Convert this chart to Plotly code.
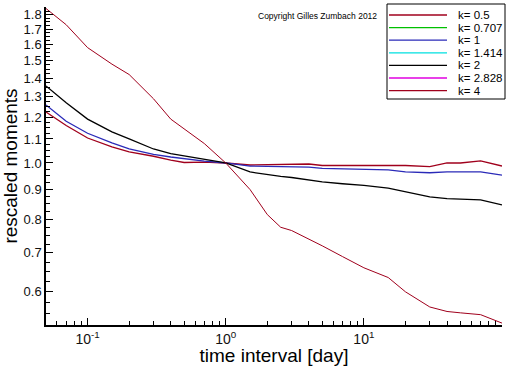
import plotly.graph_objects as go

# ---- data ----
time_interval = [0.05, 0.07, 0.1, 0.15, 0.2, 0.3, 0.4, 0.5, 0.7, 1, 1.5, 2, 2.5, 3, 4, 5,
                 7, 10, 15, 20, 30, 40, 50, 70, 100]

k_labels = ["k= 0.5", "k= 0.707", "k= 1", "k= 1.414", "k= 2", "k= 2.828", "k= 4"]
k_colors = ["#a0001c", "#00c000", "#2a2ab8", "#00e0e0", "#000000", "#e000e0", "#a0001c"]

moment_k05 = [1.224, 1.16, 1.104, 1.066, 1.045, 1.027, 1.011, 1.002, 1.003, 1.0, 0.992, 0.994,
              0.994, 0.995, 0.996, 0.99, 0.99, 0.992, 0.99, 0.99, 0.986, 1.0, 1.0, 1.008, 0.988]
moment_k0707 = []
moment_k1 = [1.259, 1.18, 1.125, 1.083, 1.058, 1.035, 1.024, 1.017, 1.007, 1.0, 0.988, 0.987,
             0.986, 0.985, 0.984, 0.979, 0.977, 0.977, 0.973, 0.965, 0.962, 0.965, 0.965, 0.965, 0.953]
moment_k1414 = []
moment_k2 = [1.357, 1.27, 1.19, 1.131, 1.10, 1.057, 1.038, 1.028, 1.015, 1.0, 0.965, 0.955,
             0.948, 0.944, 0.935, 0.928, 0.921, 0.915, 0.905, 0.893, 0.874, 0.868, 0.867, 0.864, 0.847]
moment_k2828 = []
moment_k4 = [1.845, 1.73, 1.58, 1.48, 1.42, 1.29, 1.19, 1.145, 1.08, 1.0, 0.90, 0.815,
             0.775, 0.765, 0.74, 0.72, 0.69, 0.66, 0.635, 0.60, 0.565, 0.555, 0.552, 0.548, 0.53]

series = [moment_k05, moment_k0707, moment_k1, moment_k1414, moment_k2, moment_k2828, moment_k4]
line_widths = [1.3, 1.3, 1.3, 1.3, 1.3, 1.3, 1.0]

x_tickvals = [0.1, 1, 10, 100]
x_ticktext = ["10<sup>-1</sup>", "10<sup>0</sup>", "10<sup>1</sup>", "10<sup>2</sup>"]
y_tickvals = [0.6, 0.7, 0.8, 0.9, 1.0, 1.1, 1.2, 1.3, 1.4, 1.5, 1.6, 1.7, 1.8]
y_ticktext = ["0.6", "0.7", "0.8", "0.9", "1.0", "1.1", "1.2", "1.3", "1.4", "1.5", "1.6", "1.7", "1.8"]
x_minor = [m * 10 ** e for e in (-2, -1, 0, 1) for m in range(2, 10) if 0.05 <= m * 10 ** e <= 100]
y_minor = [round(0.525 + 0.025 * i, 3) for i in range(54)]

fig = go.Figure()
for lab, col, ys, lw in zip(k_labels, k_colors, series, line_widths):
    if ys:
        fig.add_trace(go.Scatter(x=time_interval, y=ys, mode="lines", name=lab,
                                 line=dict(color=col, width=lw)))

FONT = "Liberation Sans, Arial, sans-serif"
fig.update_layout(
    width=512, height=366,
    margin=dict(l=46, r=10, t=7, b=41),
    paper_bgcolor="white", plot_bgcolor="white",
    showlegend=False,
    font=dict(family=FONT, color="#111"),
)
fig.update_xaxes(
    type="log", range=[-1.30103, 2.0],
    tickvals=x_tickvals, ticktext=x_ticktext,
    ticks="inside", ticklen=7, tickwidth=1, tickcolor="black",
    minor=dict(tickvals=x_minor, ticks="inside", ticklen=4, tickcolor="black"),
    showline=True, linecolor="black", linewidth=1.5, showgrid=False, zeroline=False,
    tickfont=dict(size=14, family=FONT),
    title=dict(text="time interval [day]", font=dict(size=19, family=FONT, color="black"), standoff=0),
    automargin=False,
)
fig.update_yaxes(
    type="log", range=[-0.279, 0.2686],
    tickvals=y_tickvals, ticktext=y_ticktext,
    ticks="inside", ticklen=7, tickwidth=1, tickcolor="black",
    minor=dict(tickvals=y_minor, ticks="inside", ticklen=4, tickcolor="black"),
    showline=True, linecolor="black", linewidth=1.5, showgrid=False, zeroline=False,
    tickfont=dict(size=13, family=FONT),
    title=dict(text="rescaled moments", font=dict(size=19, family=FONT, color="black"), standoff=6),
    automargin=False,
)

# manual legend (compact spacing like the reference)
def px2paper_x(px):
    return (px - 46) / 456.0

def px2paper_y(py):
    return (325 - py) / 318.0

fig.add_shape(type="rect", xref="paper", yref="paper",
              x0=px2paper_x(387), x1=px2paper_x(505), y0=px2paper_y(99), y1=px2paper_y(4),
              line=dict(color="black", width=1), fillcolor="white", layer="above")
for i, (lab, col) in enumerate(zip(k_labels, k_colors)):
    py = 15 + 12.6 * i
    fig.add_shape(type="line", xref="paper", yref="paper",
                  x0=px2paper_x(389), x1=px2paper_x(447), y0=px2paper_y(py), y1=px2paper_y(py),
                  line=dict(color=col, width=1.3), layer="above")
    fig.add_annotation(text=lab, xref="paper", yref="paper", x=px2paper_x(456), y=px2paper_y(py),
                       xanchor="left", yanchor="middle", showarrow=False,
                       font=dict(size=11.5, family=FONT, color="black"))

fig.add_annotation(text="Copyright Gilles Zumbach 2012", xref="paper", yref="paper",
                   x=px2paper_x(317), y=px2paper_y(16), xanchor="center", yanchor="middle",
                   showarrow=False, font=dict(size=8.5, family=FONT, color="black"))

fig.write_html("out.html", config={"displayModeBar": False},
               post_script="document.body.style.margin='0';")
